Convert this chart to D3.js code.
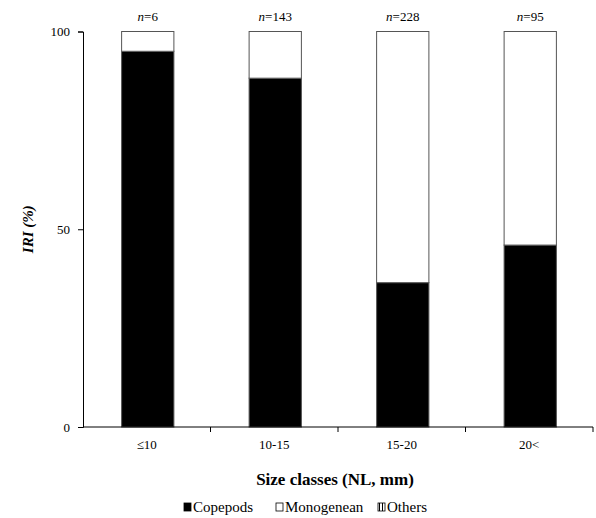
<!DOCTYPE html>
<html>
<head>
<meta charset="utf-8">
<script src="https://cdn.jsdelivr.net/npm/d3@7"></script>
<style>
  body { margin: 0; background: #fff; }
</style>
</head>
<body>
<div id="chart"></div>
<script>
// size classes and sample sizes
var categories = ["\u226410", "10-15", "15-20", "20<"];
var sampleSizes = [6, 143, 228, 95];

// IRI (%) per prey group
var copepods = [95, 88.2, 36.5, 46];
var others = [0, 0, 0, 0];
var monogenean = [5, 11.8, 63.5, 54];

var seriesNames = ["Copepods", "Monogenean", "Others"];
var yTicks = [0, 50, 100];

var serif = "'Liberation Serif', 'Times New Roman', Times, 'DejaVu Serif', serif";

var rows = categories.map(function (c, i) {
    return { cat: c, n: sampleSizes[i], Copepods: copepods[i], Monogenean: monogenean[i], Others: others[i] };
});

var W = 596, H = 518;
var margin = { top: 31.5, right: 3, bottom: 91, left: 83 };
var width = W - margin.left - margin.right;
var height = H - margin.top - margin.bottom;

var svg = d3.select("#chart").append("svg")
    .attr("width", W)
    .attr("height", H)
    .style("font-family", serif);

var g = svg.append("g").attr("transform", "translate(" + margin.left + "," + margin.top + ")");

var defs = svg.append("defs");
defs.append("pattern")
    .attr("id", "stripes")
    .attr("patternUnits", "userSpaceOnUse")
    .attr("width", 3).attr("height", 3)
  .append("rect")
    .attr("x", 1).attr("width", 1).attr("height", 3).attr("fill", "#000");

var x = d3.scaleBand().domain(categories).range([0, width]).padding(0);
var barW = x.bandwidth() * 0.41;
var y = d3.scaleLinear().domain([0, 100]).range([height, 0]);

var fills = { Copepods: "#000", Monogenean: "#fff", Others: "url(#stripes)" };

var stack = d3.stack().keys(["Copepods", "Others", "Monogenean"]);
var layers = stack(rows);

// bars
g.selectAll("g.layer")
    .data(layers)
    .enter().append("g")
    .attr("class", "layer")
    .attr("fill", function (d) { return fills[d.key]; })
  .selectAll("rect")
    .data(function (d) { return d; })
    .enter().append("rect")
    .attr("x", function (d) { return x(d.data.cat) + (x.bandwidth() - barW) / 2 + 1; })
    .attr("width", barW)
    .attr("y", function (d) { return y(d[1]); })
    .attr("height", function (d) { return y(d[0]) - y(d[1]); })
    .attr("stroke", "#555")
    .attr("stroke-width", 1);

// axes
var yAxis = g.append("g")
    .call(d3.axisLeft(y).tickValues(yTicks).tickSize(5).tickPadding(8));

var xAxis = g.append("g")
    .attr("transform", "translate(0," + height + ")")
    .call(d3.axisBottom(x).tickSize(0).tickPadding(13));
xAxis.select(".domain").remove();

svg.selectAll(".tick text")
    .attr("font-family", null)
    .style("font-family", serif)
    .style("font-size", "13px")
    .attr("fill", "#000");
yAxis.attr("font-family", null);
xAxis.attr("font-family", null);

// x axis line with category boundary ticks
g.append("line")
    .attr("x1", 0).attr("x2", width)
    .attr("y1", height).attr("y2", height)
    .attr("stroke", "#000");
g.selectAll("line.sep")
    .data(categories)
    .enter().append("line")
    .attr("class", "sep")
    .attr("x1", function (d) { return x(d) + x.bandwidth(); })
    .attr("x2", function (d) { return x(d) + x.bandwidth(); })
    .attr("y1", height).attr("y2", height + 5)
    .attr("stroke", "#000");

g.selectAll(".domain, .tick line").attr("stroke", "#000");

// sample sizes on top
var nText = g.selectAll("text.n")
    .data(rows)
    .enter().append("text")
    .attr("class", "n")
    .attr("x", function (d) { return x(d.cat) + x.bandwidth() / 2 + 1; })
    .attr("y", -11)
    .attr("text-anchor", "middle")
    .style("font-family", serif)
    .style("font-size", "13px");
nText.append("tspan").style("font-style", "italic").text("n");
nText.append("tspan").text(function (d) { return "=" + d.n; });

// axis titles
svg.append("text")
    .attr("x", 335)
    .attr("y", 485)
    .attr("text-anchor", "middle")
    .style("font-family", serif)
    .style("font-size", "17px")
    .style("font-weight", "bold")
    .text("Size classes (NL, mm)");

svg.append("text")
    .attr("transform", "translate(33," + (margin.top + height / 2) + ") rotate(-90)")
    .attr("text-anchor", "middle")
    .style("font-family", serif)
    .style("font-size", "15px")
    .style("font-weight", "bold")
    .style("font-style", "italic")
    .text("IRI (%)");

// legend
var legendX = [184, 276, 378];
var legend = svg.selectAll("g.legend")
    .data(seriesNames)
    .enter().append("g")
    .attr("class", "legend")
    .attr("transform", function (d, i) { return "translate(" + legendX[i] + ",503)"; });
legend.append("rect")
    .attr("width", 7).attr("height", 8)
    .attr("fill", function (d) { return fills[d]; })
    .attr("stroke", "#000")
    .attr("stroke-width", 0.8);
legend.append("text")
    .attr("x", 9)
    .attr("y", 9)
    .style("font-family", serif)
    .style("font-size", "15px")
    .text(function (d) { return d; });
</script>
</body>
</html>
